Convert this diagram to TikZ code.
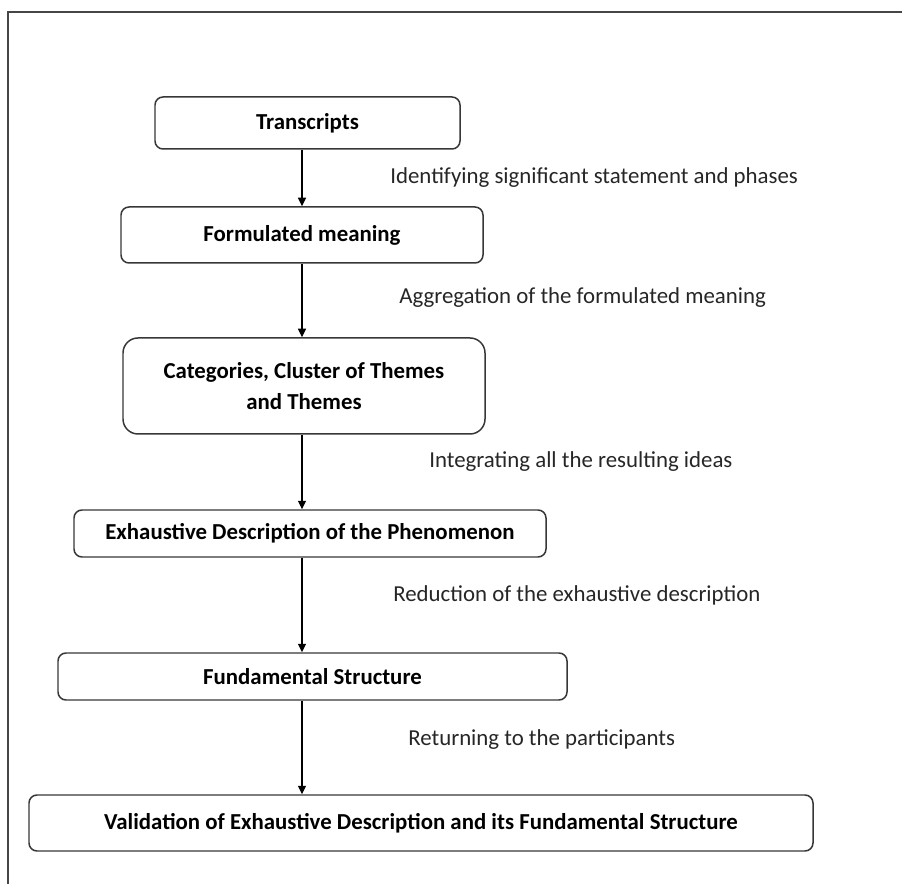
\documentclass[tikz,border=0pt]{standalone}
\usepackage{fontspec}
\setmainfont{Carlito}
\usetikzlibrary{arrows.meta,positioning}
\definecolor{trait}{RGB}{55,55,55}
\definecolor{cadre}{RGB}{70,70,70}

\tikzset{
  etape/.style={draw=trait,line width=0.85pt,rounded corners=1.6mm,align=center,
    inner sep=0pt,font=\fontsize{13}{18}\selectfont\bfseries},
  action/.style={anchor=west,inner sep=0pt,font=\fontsize{13}{15}\selectfont,text=black!85},
  fleche/.style={-{Triangle[length=1.7mm,width=1.6mm]},line width=0.65pt,black}
}

\begin{document}
\begin{tikzpicture}
  \useasboundingbox (0,0) rectangle (18.04,-17.68);
  % cadre (coupe a droite et en bas)
  \draw[cadre,line width=1.1pt] (0.16,-17.68) -- (0.16,-0.24) -- (18.04,-0.24);
  % etapes
  \node[etape,minimum width=6.1cm,minimum height=1.04cm] (trans) at (6.15,-2.46) {Transcripts};
  \node[etape,minimum width=7.24cm,minimum height=1.12cm] (form) at (6.04,-4.70) {Formulated meaning};
  \node[etape,minimum width=7.24cm,minimum height=1.92cm,rounded corners=3mm] (cat) at (6.08,-7.72)
    {Categories, Cluster of Themes\\and Themes};
  \node[etape,minimum width=9.44cm,minimum height=0.94cm] (exh) at (6.20,-10.67) {Exhaustive Description of the Phenomenon};
  \node[etape,minimum width=10.18cm,minimum height=0.94cm] (fond) at (6.25,-13.53) {Fundamental Structure};
  \node[etape,minimum width=15.68cm,minimum height=1.12cm] (valid) at (8.42,-16.46)
    {Validation of Exhaustive Description and its Fundamental Structure};
  % fleches
  \coordinate (axe) at (6.04,0);
  \draw[fleche] (trans.south -| axe) -- (form.north -| axe);
  \draw[fleche] (form.south -| axe) -- (cat.north -| axe);
  \draw[fleche] (cat.south -| axe) -- (exh.north -| axe);
  \draw[fleche] (exh.south -| axe) -- (fond.north -| axe);
  \draw[fleche] (fond.south -| axe) -- (valid.north -| axe);
  % actions
  \node[action] (a1) at (7.80,-3.56) {Identifying significant statement and phases};
  \node[action] (a2) at (7.98,-5.96) {Aggregation of the formulated meaning};
  \node[action] (a3) at (8.58,-9.24) {Integrating all the resulting ideas};
  \node[action] (a4) at (7.86,-11.90) {Reduction of the exhaustive description};
  \node[action] (a5) at (8.16,-14.80) {Returning to the participants};
\end{tikzpicture}
\end{document}
